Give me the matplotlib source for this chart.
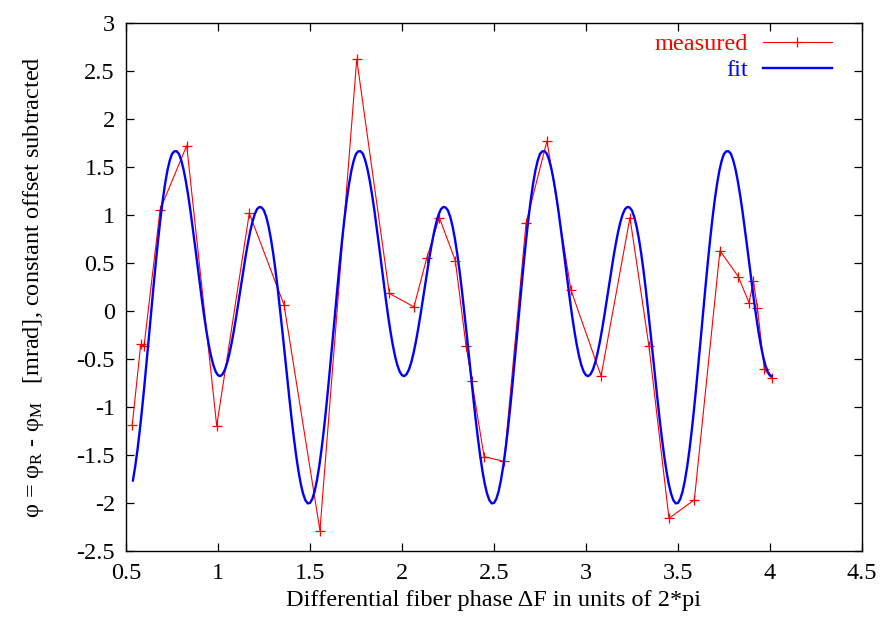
import numpy as np
import matplotlib
matplotlib.use("Agg")
import matplotlib.pyplot as plt

# measured points
meas_x = [0.534, 0.580, 0.598, 0.685, 0.830, 0.993, 1.170, 1.359, 1.554, 1.754,
          1.931, 2.065, 2.134, 2.203, 2.290, 2.348, 2.380, 2.446, 2.555, 2.674,
          2.788, 2.918, 3.082, 3.239, 3.342, 3.451, 3.589, 3.728, 3.828, 3.886,
          3.910, 3.932, 3.969, 4.009]
meas_y = [-1.19, -0.35, -0.37, 1.05, 1.72, -1.20, 1.015, 0.06, -2.29, 2.62,
          0.18, 0.04, 0.545, 0.97, 0.52, -0.365, -0.735, -1.52, -1.57, 0.91,
          1.77, 0.216, -0.68, 0.97, -0.368, -2.163, -1.97, 0.625, 0.354, 0.083,
          0.306, 0.025, -0.61, -0.704]

# fit curve, every 0.0125 from 0.5375 to 4.0, plus the end point
fit_x = np.concatenate([np.round(np.arange(0.5375, 4.0 + 1e-9, 0.0125), 4), [4.009]])
fit_y = [
    # 0.5375 .. 0.9875
    -1.769, -1.623, -1.447, -1.245, -1.020, -0.778, -0.523, -0.262, 0.002, 0.261,
    0.511, 0.747, 0.964, 1.157, 1.323, 1.460, 1.563, 1.633, 1.660, 1.661,
    1.634, 1.568, 1.473, 1.351, 1.206, 1.043, 0.865, 0.679, 0.488, 0.298,
    0.114, -0.060, -0.218, -0.358, -0.476, -0.569, -0.635,
    # 1.0 .. 1.9875
    -0.673, -0.681, -0.661, -0.614, -0.541, -0.444, -0.328, -0.194, -0.049, 0.105,
    0.262, 0.417, 0.566, 0.703, 0.825, 0.928, 1.007, 1.060, 1.080, 1.075,
    1.043, 0.975, 0.877, 0.750, 0.596, 0.419, 0.222, 0.008, -0.216, -0.447,
    -0.679, -0.906, -1.125, -1.328, -1.513, -1.673, -1.806, -1.907, -1.975, -2.007,
    -2.003, -1.961, -1.883, -1.769, -1.623, -1.447, -1.245, -1.020, -0.778, -0.523,
    -0.262, 0.002, 0.261, 0.511, 0.747, 0.964, 1.157, 1.323, 1.460, 1.563,
    1.633, 1.660, 1.661, 1.634, 1.568, 1.473, 1.351, 1.206, 1.043, 0.865,
    0.679, 0.488, 0.298, 0.114, -0.060, -0.218, -0.358, -0.476, -0.569, -0.635,
    # 2.0 .. 2.9875
    -0.673, -0.681, -0.661, -0.614, -0.541, -0.444, -0.328, -0.194, -0.049, 0.105,
    0.262, 0.417, 0.566, 0.703, 0.825, 0.928, 1.007, 1.060, 1.080, 1.075,
    1.043, 0.975, 0.877, 0.750, 0.596, 0.419, 0.222, 0.008, -0.216, -0.447,
    -0.679, -0.906, -1.125, -1.328, -1.513, -1.673, -1.806, -1.907, -1.975, -2.007,
    -2.003, -1.961, -1.883, -1.769, -1.623, -1.447, -1.245, -1.020, -0.778, -0.523,
    -0.262, 0.002, 0.261, 0.511, 0.747, 0.964, 1.157, 1.323, 1.460, 1.563,
    1.633, 1.660, 1.661, 1.634, 1.568, 1.473, 1.351, 1.206, 1.043, 0.865,
    0.679, 0.488, 0.298, 0.114, -0.060, -0.218, -0.358, -0.476, -0.569, -0.635,
    # 3.0 .. 3.9875
    -0.673, -0.681, -0.661, -0.614, -0.541, -0.444, -0.328, -0.194, -0.049, 0.105,
    0.262, 0.417, 0.566, 0.703, 0.825, 0.928, 1.007, 1.060, 1.080, 1.075,
    1.043, 0.975, 0.877, 0.750, 0.596, 0.419, 0.222, 0.008, -0.216, -0.447,
    -0.679, -0.906, -1.125, -1.328, -1.513, -1.673, -1.806, -1.907, -1.975, -2.007,
    -2.003, -1.961, -1.883, -1.769, -1.623, -1.447, -1.245, -1.020, -0.778, -0.523,
    -0.262, 0.002, 0.261, 0.511, 0.747, 0.964, 1.157, 1.323, 1.460, 1.563,
    1.633, 1.660, 1.661, 1.634, 1.568, 1.473, 1.351, 1.206, 1.043, 0.865,
    0.679, 0.488, 0.298, 0.114, -0.060, -0.218, -0.358, -0.476, -0.569, -0.635,
    # 4.0, end
    -0.673, -0.680,
]

x_ticks = [0.5, 1, 1.5, 2, 2.5, 3, 3.5, 4, 4.5]
x_tick_labels = ["0.5", "1", "1.5", "2", "2.5", "3", "3.5", "4", "4.5"]
y_ticks = [-2.5, -2, -1.5, -1, -0.5, 0, 0.5, 1, 1.5, 2, 2.5, 3]
y_tick_labels = ["-2.5", "-2", "-1.5", "-1", "-0.5", "0", "0.5", "1", "1.5", "2", "2.5", "3"]

FS = 17.5


def main():
    plt.rcParams["font.family"] = ["Liberation Serif", "DejaVu Serif"]
    plt.rcParams["mathtext.fontset"] = "custom"
    plt.rcParams["mathtext.rm"] = "Liberation Serif"
    plt.rcParams["mathtext.it"] = "Liberation Serif:italic"

    fig = plt.figure(figsize=(8.83, 6.28), dpi=100)
    ax = fig.add_axes([0.1427, 0.1231, 0.8335, 0.8408])

    ax.plot(meas_x, meas_y, color="red", lw=0.8, marker="+", ms=7, mew=0.9,
            label="measured")
    ax.plot(fit_x, fit_y, color="blue", lw=1.7, label="fit")

    ax.set_xlim(0.5, 4.5)
    ax.set_ylim(-2.5, 3)
    ax.set_xticks(x_ticks)
    ax.set_xticklabels(x_tick_labels)
    ax.set_yticks(y_ticks)
    ax.set_yticklabels(y_tick_labels)
    ax.tick_params(direction="in", length=6, width=0.9, top=True, right=True,
                   labelsize=FS)
    ax.tick_params(axis="x", pad=9)
    ax.tick_params(axis="y", pad=8)
    for s in ax.spines.values():
        s.set_linewidth(1.0)

    ax.set_xlabel("Differential fiber phase \u0394F in units of 2*pi", fontsize=FS,
                  labelpad=4)
    ax.set_ylabel(r"φ = φ$_\mathrm{R}$ - φ$_\mathrm{M}$   [mrad], constant offset subtracted",
                  fontsize=FS, labelpad=22)

    ax.legend(loc="upper right", bbox_to_anchor=(0.959, 0.980), frameon=False,
              markerfirst=False, numpoints=1, fontsize=FS, handlelength=2.84,
              handletextpad=0.62, labelspacing=0.17, borderaxespad=0, borderpad=0,
              labelcolor="linecolor")

    fig.savefig("out.png", dpi=100)


if __name__ == "__main__":
    main()
